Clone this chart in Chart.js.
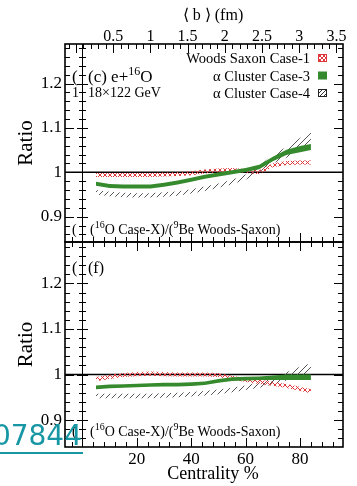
<!DOCTYPE html>
<html>
<head>
<meta charset="utf-8">
<script src="https://cdn.jsdelivr.net/npm/chart.js@4.4.1/dist/chart.umd.min.js"></script>
<style>
  html, body { margin: 0; padding: 0; background: #fff; }
  #wrap { position: relative; width: 357px; height: 486px; overflow: hidden; }
  #wrap canvas { position: absolute; left: 0; top: 0; }
</style>
</head>
<body>
<div id="wrap">
  <canvas id="panelC" width="357" height="486"></canvas>
  <canvas id="panelF" width="357" height="486"></canvas>
</div>
<script>
// centrality bins (%)
var centrality = [5, 10, 15, 20, 25, 30, 35, 40, 45, 50, 55, 60, 65, 70, 75, 80, 84];

// panel (c): e+16O, 18x122 GeV -- ratio to 9Be Woods-Saxon
var wsCase1C    = [0.994, 0.994, 0.994, 0.994, 0.994, 0.995, 0.996, 0.998, 1.002, 1.004, 1.005, 1.003, 1.000, 1.016, 1.021, 1.022, 1.022];
var wsCase1CErr = [0.0045, 0.0045, 0.0045, 0.0045, 0.0045, 0.0045, 0.0045, 0.0045, 0.0045, 0.0045, 0.0045, 0.0045, 0.0045, 0.0045, 0.0045, 0.0045, 0.0045];
var alCase3C    = [0.974, 0.969, 0.968, 0.968, 0.968, 0.972, 0.977, 0.983, 0.990, 0.995, 1.000, 1.005, 1.012, 1.030, 1.045, 1.052, 1.057];
var alCase3CErr = [0.0045, 0.0045, 0.0045, 0.0045, 0.0045, 0.0045, 0.0045, 0.0045, 0.0045, 0.0045, 0.0045, 0.0045, 0.005, 0.005, 0.006, 0.007, 0.007];
var alCase4C    = [0.955, 0.951, 0.949, 0.948, 0.948, 0.950, 0.952, 0.957, 0.963, 0.970, 0.978, 0.989, 1.007, 1.030, 1.045, 1.065, 1.080];
var alCase4CErr = [0.005, 0.005, 0.005, 0.005, 0.005, 0.005, 0.005, 0.005, 0.005, 0.005, 0.005, 0.006, 0.007, 0.010, 0.012, 0.012, 0.012];

// panel (f)
var wsCase1F    = [0.990, 0.995, 0.999, 1.001, 1.002, 1.001, 1.000, 1.000, 1.000, 0.999, 0.993, 0.988, 0.984, 0.980, 0.975, 0.969, 0.963];
var wsCase1FErr = [0.0045, 0.0045, 0.0045, 0.0045, 0.0045, 0.0045, 0.0045, 0.0045, 0.0045, 0.0045, 0.0045, 0.0045, 0.0045, 0.0045, 0.0045, 0.0045, 0.0045];
var alCase3F    = [0.972, 0.974, 0.975, 0.976, 0.977, 0.978, 0.978, 0.979, 0.981, 0.986, 0.990, 0.991, 0.992, 0.993, 0.994, 0.994, 0.994];
var alCase3FErr = [0.004, 0.004, 0.004, 0.004, 0.004, 0.004, 0.004, 0.004, 0.004, 0.004, 0.004, 0.004, 0.004, 0.005, 0.006, 0.006, 0.006];
var alCase4F    = [0.953, 0.953, 0.953, 0.953, 0.953, 0.954, 0.955, 0.957, 0.959, 0.962, 0.966, 0.971, 0.977, 0.985, 0.996, 1.007, 1.015];
var alCase4FErr = [0.005, 0.005, 0.005, 0.005, 0.005, 0.005, 0.005, 0.005, 0.005, 0.005, 0.005, 0.005, 0.006, 0.007, 0.009, 0.010, 0.010];

var seriesNames = ['Woods Saxon Case-1', '\u03b1 Cluster Case-3', '\u03b1 Cluster Case-4'];

// axis ticks
var yTicks = [0.9, 1, 1.1, 1.2];
var xTicks = [20, 40, 60, 80];
var bTicks = [0.5, 1, 1.5, 2, 2.5, 3, 3.5];

var SERIF = '"Liberation Serif", "Times New Roman", serif';
var GREEN = '#358a2d';
var RED = '#e0383a';

function hatch(canvasId, color, cross, size) {
    var n = size || 5;
    var c = document.createElement('canvas');
    c.width = n; c.height = n;
    var g = c.getContext('2d');
    g.strokeStyle = color;
    g.lineWidth = 1;
    g.beginPath();
    g.moveTo(-1, n + 1); g.lineTo(n + 1, -1);
    if (cross) { g.moveTo(-1, -1); g.lineTo(n + 1, n + 1); }
    g.stroke();
    return document.getElementById(canvasId).getContext('2d').createPattern(c, 'repeat');
}

// a band = lower edge + upper edge filled down to it
function band(center, err, fillStyle, name) {
    var lo = centrality.map(function (c, i) { return { x: c, y: center[i] - err[i] }; });
    var hi = centrality.map(function (c, i) { return { x: c, y: center[i] + err[i] }; });
    return [
        { label: name + ' low', data: lo, borderWidth: 0, borderColor: 'rgba(0,0,0,0)', pointRadius: 0, fill: false },
        { label: name, data: hi, borderWidth: 0, borderColor: 'rgba(0,0,0,0)', pointRadius: 0, fill: '-1', backgroundColor: fillStyle }
    ];
}

function line(ctx, x1, y1, x2, y2) {
    ctx.beginPath(); ctx.moveTo(x1, y1); ctx.lineTo(x2, y2); ctx.stroke();
}

// text with ^superscript pieces
function drawRich(ctx, x, y, size, parts) {
    parts.forEach(function (p) {
        var sup = p.charAt(0) === '^';
        var txt = sup ? p.slice(1) : p;
        ctx.font = (sup ? Math.round(size * 0.68) : size) + 'px ' + SERIF;
        ctx.fillText(txt, x, sup ? y - size * 0.42 : y);
        x += ctx.measureText(txt).width;
    });
}

var rootFrame = {
    id: 'rootFrame',
    beforeDatasetsDraw: function (chart) {
        var ctx = chart.ctx, a = chart.chartArea, py = chart.scales.y.getPixelForValue(1);
        ctx.save();
        ctx.strokeStyle = '#000'; ctx.lineWidth = 1.6;
        line(ctx, a.left, py, a.right, py);
        ctx.restore();
    },
    afterDraw: function (chart, args, o) {
        var ctx = chart.ctx, a = chart.chartArea, xs = chart.scales.x, ys = chart.scales.y;
        var k, v, p, len;
        ctx.save();
        ctx.strokeStyle = '#000';
        ctx.fillStyle = '#000';

        // inner pad edge at zero centrality
        var x0 = Math.round(xs.getPixelForValue(0)) + 0.5;
        ctx.lineWidth = 1;
        line(ctx, x0, a.top, x0, a.bottom);

        // y ticks on both edges and across the inner edge
        for (k = 42; k <= 65; k++) {
            p = Math.round(ys.getPixelForValue(k / 50)) + 0.5;
            if (p < a.top + 1 || p > a.bottom - 1) continue;
            len = k % 5 === 0 ? 9 : 5;
            line(ctx, a.left, p, a.left + len, p);
            line(ctx, a.right - len, p, a.right, p);
            line(ctx, x0 - len / 2 - 1, p, x0 + len / 2 + 1, p);
        }
        // centrality ticks, bottom edge (and top edge when there is no <b> axis)
        for (k = -1; k <= 24; k++) {
            v = k * 4;
            p = Math.round(xs.getPixelForValue(v)) + 0.5;
            if (p < a.left + 1 || p > a.right - 1) continue;
            len = v % 20 === 0 ? 9 : 5;
            line(ctx, p, a.bottom, p, a.bottom - len);
            if (!chart.scales.b) line(ctx, p, a.top, p, a.top + len);
        }
        if (chart.scales.b) {
            for (k = -1; k <= 36; k++) {
                p = Math.round(chart.scales.b.getPixelForValue(k / 10)) + 0.5;
                if (p < a.left + 1 || p > a.right - 1) continue;
                len = k % 5 === 0 ? 9 : 5;
                line(ctx, p, a.top, p, a.top + len);
            }
        }

        // frame
        ctx.lineWidth = 1.6;
        ctx.strokeRect(a.left, a.top, a.right - a.left, a.bottom - a.top);

        // axis titles
        ctx.textBaseline = 'middle';
        ctx.textAlign = 'center';
        ctx.save();
        ctx.translate(26, (a.top + a.bottom) / 2);
        ctx.rotate(-Math.PI / 2);
        ctx.font = '21px ' + SERIF;
        ctx.fillText('Ratio', 0, 0);
        ctx.restore();
        if (o.topTitle) {
            ctx.font = '16px ' + SERIF;
            ctx.fillText(o.topTitle, 213, 16);
        }
        if (o.bottomTitle) {
            ctx.font = '18px ' + SERIF;
            ctx.fillText(o.bottomTitle, 213, 474);
        }

        // panel texts
        ctx.textAlign = 'left';
        ctx.textBaseline = 'alphabetic';
        (o.texts || []).forEach(function (t) {
            drawRich(ctx, t.x, a.top + t.dy, t.size, t.parts);
        });

        // legend
        if (o.legend) {
            var fills = [hatch(chart.canvas.id, RED, true, 4), GREEN, hatch(chart.canvas.id, '#333', false, 4)];
            seriesNames.forEach(function (name, i) {
                var by = a.top + 19 + i * 17.5;
                ctx.textAlign = 'right';
                ctx.font = '14.5px ' + SERIF;
                ctx.fillStyle = '#000';
                ctx.fillText(name, 310, by);
                ctx.fillStyle = fills[i];
                ctx.fillRect(318, by - 9, 9, 8);
                if (i !== 1) {
                    ctx.lineWidth = 1;
                    ctx.strokeStyle = i === 0 ? RED : '#222';
                    ctx.strokeRect(318.5, by - 8.5, 8, 7);
                }
            });
        }

        // link overlay
        if (o.link) {
            ctx.fillStyle = '#1796a3';
            ctx.textAlign = 'right';
            ctx.font = '28px "DejaVu Sans", sans-serif';
            ctx.fillText(o.link, 82, 445);
            ctx.fillRect(0, 452, 83, 2);
        }
        ctx.restore();
    }
};

function makePanel(canvasId, opts) {
    var datasets = []
        .concat(band(opts.case3, opts.case3Err, GREEN, seriesNames[1]))
        .concat(band(opts.case1, opts.case1Err, hatch(canvasId, RED, true, 5), seriesNames[0]))
        .concat(band(opts.case4, opts.case4Err, hatch(canvasId, '#555', false, 6), seriesNames[2]));

    var scales = {
        x: {
            type: 'linear', position: 'bottom', min: -6.4, max: 95.8,
            afterBuildTicks: function (s) { s.ticks = xTicks.map(function (v) { return { value: v }; }); },
            ticks: { display: opts.showX, color: '#000', font: { family: SERIF, size: 17 }, padding: 2, maxRotation: 0, autoSkip: false },
            grid: { display: false, drawTicks: false }, border: { display: false },
            afterFit: function (s) { s.height = opts.showX ? 39 : 0; }
        },
        y: {
            min: opts.yMin, max: opts.yMax,
            afterBuildTicks: function (s) { s.ticks = yTicks.map(function (v) { return { value: v }; }); },
            ticks: { color: '#000', font: { family: SERIF, size: 17 }, padding: 3,
                     callback: function (v) { return String(Math.round(v * 10) / 10); } },
            grid: { display: false, drawTicks: false }, border: { display: false },
            afterFit: function (s) { s.width = 55; }
        }
    };
    if (opts.showB) {
        scales.b = {
            type: 'linear', position: 'top', min: -0.148, max: 3.589,
            afterBuildTicks: function (s) { s.ticks = bTicks.map(function (v) { return { value: v }; }); },
            ticks: { color: '#000', font: { family: SERIF, size: 16 }, padding: -2, maxRotation: 0, autoSkip: false,
                     callback: function (v) { return String(v); } },
            grid: { display: false, drawTicks: false }, border: { display: false },
            afterFit: function (s) { s.height = 44; }
        };
    }

    return new Chart(document.getElementById(canvasId), {
        type: 'line',
        data: { datasets: datasets },
        plugins: [rootFrame],
        options: {
            responsive: false, animation: false, devicePixelRatio: 1, events: [],
            layout: { padding: opts.padding },
            elements: { line: { tension: 0 } },
            scales: scales,
            plugins: {
                legend: { display: false }, tooltip: { enabled: false },
                filler: { propagate: false },
                rootFrame: opts.frame
            }
        }
    });
}

makePanel('panelC', {
    case1: wsCase1C, case1Err: wsCase1CErr,
    case3: alCase3C, case3Err: alCase3CErr,
    case4: alCase4C, case4Err: alCase4CErr,
    yMin: 0.843, yMax: 1.289, showX: false, showB: true,
    padding: { left: 10, right: 14, top: 0, bottom: 244 },
    frame: {
        topTitle: '\u27e8 b \u27e9 (fm)', legend: true,
        texts: [
            { x: 72, dy: 38, size: 17, parts: ['('] },
            { x: 88, dy: 38, size: 17, parts: ['(c) e+', '^16', 'O'] },
            { x: 72, dy: 53, size: 14, parts: ['1'] },
            { x: 88, dy: 53, size: 14, parts: ['18\u00d7122 GeV'] },
            { x: 72, dy: 190, size: 14, parts: ['('] },
            { x: 90, dy: 190, size: 14, parts: ['(', '^16', 'O Case-X)/(', '^9', 'Be Woods-Saxon)'] }
        ]
    }
});

makePanel('panelF', {
    case1: wsCase1F, case1Err: wsCase1FErr,
    case3: alCase3F, case3Err: alCase3FErr,
    case4: alCase4F, case4Err: alCase4FErr,
    yMin: 0.841, yMax: 1.291, showX: true, showB: false,
    padding: { left: 10, right: 14, top: 242, bottom: 0 },
    frame: {
        bottomTitle: 'Centrality %', link: '07844',
        texts: [
            { x: 72, dy: 31, size: 16, parts: ['('] },
            { x: 88, dy: 31, size: 16, parts: ['(f)'] },
            { x: 72, dy: 194, size: 14, parts: ['('] },
            { x: 90, dy: 194, size: 14, parts: ['(', '^16', 'O Case-X)/(', '^9', 'Be Woods-Saxon)'] }
        ]
    }
});
</script>
</body>
</html>
